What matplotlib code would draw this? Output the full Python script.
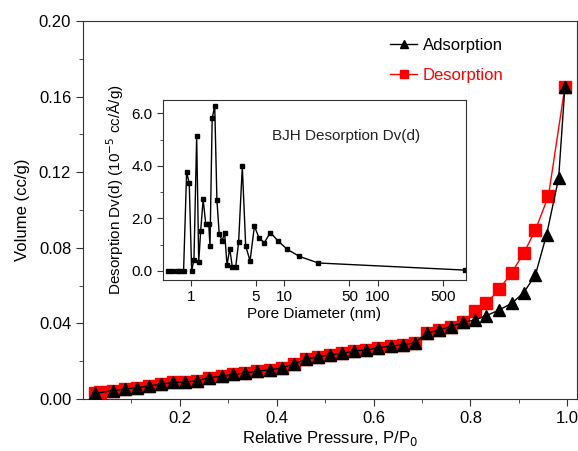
import matplotlib
matplotlib.use("Agg")
import matplotlib.pyplot as plt
from matplotlib.ticker import MultipleLocator, FixedLocator, FixedFormatter

plt.rcParams['font.family'] = ['Liberation Sans', 'DejaVu Sans']

# Isotherm (main plot)
p_ads = [0.025, 0.062, 0.087, 0.111, 0.136, 0.161, 0.186, 0.211, 0.236, 0.260,
         0.286, 0.310, 0.335, 0.360, 0.386, 0.411, 0.435, 0.460, 0.485, 0.509,
         0.535, 0.559, 0.584, 0.610, 0.635, 0.660, 0.685, 0.710, 0.735, 0.760,
         0.784, 0.809, 0.833, 0.859, 0.885, 0.910, 0.934, 0.957, 0.982, 0.995]
v_ads = [0.0030, 0.0044, 0.0053, 0.0060, 0.0069, 0.0079, 0.0088, 0.0090, 0.0097, 0.0113,
         0.0120, 0.0131, 0.0138, 0.0147, 0.0155, 0.0164, 0.0185, 0.0210, 0.0224, 0.0233,
         0.0242, 0.0254, 0.0259, 0.0271, 0.0280, 0.0286, 0.0298, 0.0348, 0.0365, 0.0383,
         0.0405, 0.0418, 0.0441, 0.0471, 0.0506, 0.0563, 0.0656, 0.0868, 0.1168, 0.1652]

p_des = [0.025, 0.036, 0.062, 0.087, 0.111, 0.136, 0.161, 0.186, 0.211, 0.236,
         0.260, 0.286, 0.310, 0.335, 0.360, 0.386, 0.411, 0.435, 0.460, 0.485,
         0.509, 0.535, 0.559, 0.584, 0.610, 0.635, 0.660, 0.685, 0.710, 0.735,
         0.760, 0.784, 0.809, 0.833, 0.859, 0.885, 0.910, 0.934, 0.961, 0.995]
v_des = [0.0030, 0.0035, 0.0044, 0.0053, 0.0060, 0.0069, 0.0079, 0.0088, 0.0090, 0.0097,
         0.0113, 0.0120, 0.0131, 0.0138, 0.0147, 0.0155, 0.0164, 0.0185, 0.0210, 0.0224,
         0.0233, 0.0242, 0.0254, 0.0259, 0.0271, 0.0280, 0.0286, 0.0298, 0.0348, 0.0365,
         0.0383, 0.0405, 0.0467, 0.0506, 0.0580, 0.0668, 0.0772, 0.0894, 0.1074, 0.1652]

# BJH pore size distribution (inset)
pore_d = [0.575, 0.635, 0.708, 0.768, 0.84, 0.906, 0.966, 1.025, 1.085, 1.16,
          1.22, 1.28, 1.36, 1.45, 1.56, 1.61, 1.70, 1.81, 1.91, 2.02,
          2.17, 2.31, 2.45, 2.62, 2.79, 3.03, 3.26, 3.57, 3.88, 4.32,
          4.81, 5.39, 6.13, 7.13, 8.6, 10.8, 14.6, 23.2, 860]
dv = [0.0, 0.0, 0.0, 0.0, 0.0, 3.76, 3.33, 0.0, 0.43, 5.12,
      0.34, 1.52, 2.72, 1.80, 1.80, 0.95, 5.81, 6.27, 2.69, 1.42,
      1.14, 1.45, 0.22, 0.85, 0.15, 0.13, 1.10, 3.98, 0.95, 0.38,
      1.70, 1.26, 1.07, 1.46, 1.14, 0.82, 0.55, 0.30, 0.03]

inset_xticks = [1, 5, 10, 50, 100, 500]
inset_xticklabels = ['1', '5', '10', '50', '100', '500']

fig = plt.figure(figsize=(5.78, 4.51), dpi=100)
ax = fig.add_axes([0.1436, 0.1153, 0.8547, 0.838])

ax.plot(p_des, v_des, color='red', marker='s', markersize=8.5, lw=1,
        label='Desorption', zorder=2)
ax.plot(p_ads, v_ads, color='black', marker='^', markersize=8.5, lw=1,
        label='Adsorption', zorder=3)

ax.set_xlim(0, 1.02)
ax.set_ylim(0, 0.20)
ax.xaxis.set_major_locator(FixedLocator([0.2, 0.4, 0.6, 0.8, 1.0]))
ax.xaxis.set_minor_locator(FixedLocator([0.1, 0.3, 0.5, 0.7, 0.9]))
ax.yaxis.set_major_locator(MultipleLocator(0.04))
ax.yaxis.set_minor_locator(MultipleLocator(0.02))
ax.yaxis.set_major_formatter(plt.FormatStrFormatter('%.2f'))
ax.xaxis.set_major_formatter(plt.FormatStrFormatter('%.1f'))
ax.tick_params(which='both', direction='out', labelsize=12, color='#333333')
ax.tick_params(which='major', length=5)
ax.tick_params(which='minor', length=3)
for s in ax.spines.values():
    s.set_color('#333333')
ax.set_xlabel('Relative Pressure, P/P$_0$', fontsize=12, labelpad=2)
ax.set_ylabel('Volume (cc/g)', fontsize=12, labelpad=6)

handles, labels = ax.get_legend_handles_labels()
ax.legend(handles[::-1], labels[::-1], loc='upper right', bbox_to_anchor=(0.882, 0.995),
          frameon=False, fontsize=12, labelcolor='linecolor', markerscale=0.7,
          handlelength=1.6, handletextpad=0.35, labelspacing=0.9)

# inset
axin = fig.add_axes([0.282, 0.379, 0.524, 0.399])
axin.plot(pore_d, dv, color='black', marker='s', markersize=3, lw=1)
axin.set_xscale('log')
axin.set_xlim(0.506, 880)
axin.set_ylim(-0.35, 6.5)
axin.xaxis.set_major_locator(FixedLocator(inset_xticks))
axin.xaxis.set_major_formatter(FixedFormatter(inset_xticklabels))
axin.xaxis.set_minor_locator(FixedLocator([]))
axin.yaxis.set_major_locator(MultipleLocator(2.0))
axin.yaxis.set_minor_locator(MultipleLocator(1.0))
axin.yaxis.set_major_formatter(plt.FormatStrFormatter('%.1f'))
axin.tick_params(which='both', direction='out', labelsize=11, color='#333333')
axin.tick_params(which='major', length=4)
axin.tick_params(which='minor', length=2.5)
for s in axin.spines.values():
    s.set_color('#333333')
axin.set_xlabel('Pore Diameter (nm)', fontsize=11, labelpad=2)
axin.set_ylabel('Desorption Dv(d) (10$^{-5}$ cc/\u00c5/g)', fontsize=11, labelpad=4)
axin.text(0.36, 0.80, 'BJH Desorption Dv(d)', transform=axin.transAxes,
          fontsize=11, va='center', ha='left', color='#222222')

fig.savefig('out.png', dpi=100)
